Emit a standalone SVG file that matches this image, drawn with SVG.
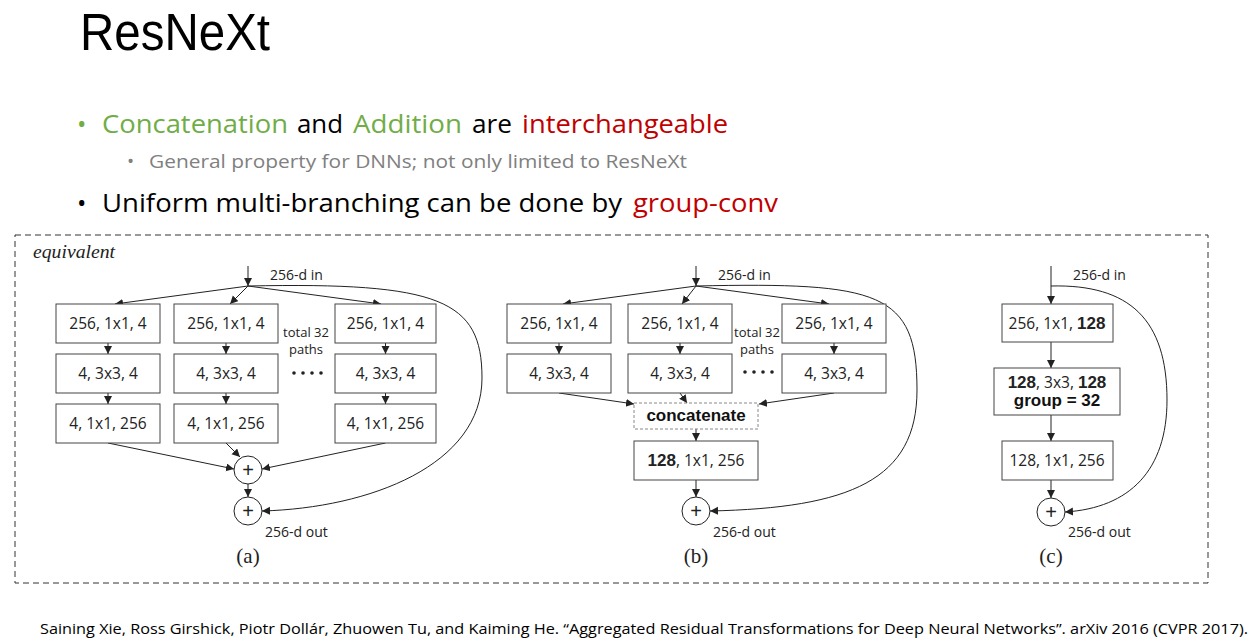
<svg xmlns="http://www.w3.org/2000/svg" width="1252" height="643" viewBox="0 0 1252 643">
<defs>
<marker id="ah" markerUnits="userSpaceOnUse" markerWidth="10" markerHeight="10" refX="8" refY="4" orient="auto">
<path d="M0,0 L8,4 L0,8 z" fill="#222"/>
</marker>
<style>
.hd{font-family:"Open Sans","Noto Sans",sans-serif;}
.lb{font-family:"Open Sans","Noto Sans",sans-serif;font-size:15.5px;fill:#222;text-anchor:middle;}
.sm{font-family:"Open Sans","Noto Sans",sans-serif;font-size:14px;fill:#222;}
.tp{font-family:"Open Sans","Noto Sans",sans-serif;font-size:13px;fill:#222;text-anchor:middle;}
.bd{font-family:"Liberation Sans",Arial,sans-serif;font-weight:bold;}
.cap{font-family:"Liberation Serif","Times New Roman",serif;font-size:21px;fill:#222;text-anchor:middle;}
.box{fill:#fff;stroke:#444;stroke-width:1;}
.cn{fill:none;stroke:#222;stroke-width:1;marker-end:url(#ah);}
.sum{fill:#fff;stroke:#222;stroke-width:1;}
.plus{font-family:"Liberation Sans",Arial,sans-serif;font-size:20px;fill:#222;text-anchor:middle;}
.g{fill:#70AD47;}
.r{fill:#C00000;}
.k{fill:#000;}
</style>
</defs>
<rect width="1252" height="643" fill="#fff"/>

<!-- header -->
<text class="k" x="80" y="50" font-family="Liberation Sans,Arial,sans-serif" font-size="51" textLength="190" lengthAdjust="spacingAndGlyphs">ResNeXt</text>
<g class="hd" font-size="25">
<text class="g" x="77" y="133">•</text>
<text class="g" x="102" y="133" textLength="186" lengthAdjust="spacingAndGlyphs">Concatenation</text>
<text class="k" x="297" y="133" textLength="46" lengthAdjust="spacingAndGlyphs">and</text>
<text class="g" x="353" y="133" textLength="109" lengthAdjust="spacingAndGlyphs">Addition</text>
<text class="k" x="472" y="133" textLength="40" lengthAdjust="spacingAndGlyphs">are</text>
<text class="r" x="522" y="133" textLength="206" lengthAdjust="spacingAndGlyphs">interchangeable</text>
</g>
<g class="hd" font-size="19" fill="#808080">
<text x="127" y="168">•</text>
<text x="149" y="168" textLength="538" lengthAdjust="spacingAndGlyphs">General property for DNNs; not only limited to ResNeXt</text>
</g>
<g class="hd" font-size="25">
<text class="k" x="77" y="212">•</text>
<text class="k" x="102" y="212" textLength="520" lengthAdjust="spacingAndGlyphs">Uniform multi-branching can be done by</text>
<text class="r" x="633" y="212" textLength="145" lengthAdjust="spacingAndGlyphs">group-conv</text>
</g>

<!-- frame -->
<rect x="15" y="235" width="1193" height="348" fill="none" stroke="#333" stroke-width="1" stroke-dasharray="6,4"/>
<text x="33" y="258" font-family="Liberation Serif,'Times New Roman',serif" font-style="italic" font-size="18" fill="#222" textLength="82" lengthAdjust="spacingAndGlyphs">equivalent</text>

<!-- connectors -->
<g id="connectors">
<!-- (a) -->
<line class="cn" x1="248" y1="266" x2="248" y2="286"/>
<line class="cn" x1="248" y1="286" x2="115" y2="304"/>
<line class="cn" x1="248" y1="286" x2="230" y2="304"/>
<line class="cn" x1="248" y1="286" x2="381" y2="304"/>
<line class="cn" x1="108" y1="343" x2="108" y2="354"/>
<line class="cn" x1="226" y1="343" x2="226" y2="354"/>
<line class="cn" x1="385.5" y1="343" x2="385.5" y2="354"/>
<line class="cn" x1="108" y1="393" x2="108" y2="404"/>
<line class="cn" x1="226" y1="393" x2="226" y2="404"/>
<line class="cn" x1="385.5" y1="393" x2="385.5" y2="404"/>
<line class="cn" x1="108" y1="443" x2="234" y2="469"/>
<line class="cn" x1="226" y1="443" x2="240" y2="457"/>
<line class="cn" x1="385.5" y1="443" x2="262" y2="469"/>
<line class="cn" x1="248" y1="484" x2="248" y2="497"/>
<path class="cn" d="M248,286 C440,282 482,300 482,378 C482,465 370,508 262,511"/>
<!-- (b) -->
<line class="cn" x1="696" y1="266" x2="696" y2="286"/>
<line class="cn" x1="696" y1="286" x2="563" y2="304"/>
<line class="cn" x1="696" y1="286" x2="682" y2="304"/>
<line class="cn" x1="696" y1="286" x2="829" y2="304"/>
<line class="cn" x1="559" y1="343" x2="559" y2="354"/>
<line class="cn" x1="680" y1="343" x2="680" y2="354"/>
<line class="cn" x1="834" y1="343" x2="834" y2="354"/>
<line class="cn" x1="559" y1="393" x2="634" y2="404"/>
<line class="cn" x1="680" y1="393" x2="687" y2="403"/>
<line class="cn" x1="834" y1="393" x2="759" y2="404"/>
<line class="cn" x1="696" y1="429" x2="696" y2="441"/>
<line class="cn" x1="696" y1="480" x2="696" y2="497"/>
<path class="cn" d="M696,286 C880,282 917,292 917,390 C917,480 850,508 710,511"/>
<!-- (c) -->
<line class="cn" x1="1051" y1="266" x2="1051" y2="304"/>
<line class="cn" x1="1051" y1="342" x2="1051" y2="368"/>
<line class="cn" x1="1051" y1="415" x2="1051" y2="441"/>
<line class="cn" x1="1051" y1="480" x2="1051" y2="498"/>
<path class="cn" d="M1051,286 C1130,284 1167,320 1167,400 C1167,470 1130,508 1065,512"/>
</g>

<!-- (a) nodes -->
<g id="a-in"><text class="sm" x="270" y="280">256-d in</text></g>
<g id="a-b11"><rect class="box" x="56" y="304" width="104" height="39"/><text class="lb" x="108" y="329">256, 1x1, 4</text></g>
<g id="a-b12"><rect class="box" x="174" y="304" width="104" height="39"/><text class="lb" x="226" y="329">256, 1x1, 4</text></g>
<g id="a-b13"><rect class="box" x="335" y="304" width="101" height="39"/><text class="lb" x="385.5" y="329">256, 1x1, 4</text></g>
<g id="a-b21"><rect class="box" x="56" y="354" width="104" height="39"/><text class="lb" x="108" y="379">4, 3x3, 4</text></g>
<g id="a-b22"><rect class="box" x="174" y="354" width="104" height="39"/><text class="lb" x="226" y="379">4, 3x3, 4</text></g>
<g id="a-b23"><rect class="box" x="335" y="354" width="101" height="39"/><text class="lb" x="385.5" y="379">4, 3x3, 4</text></g>
<g id="a-b31"><rect class="box" x="56" y="404" width="104" height="39"/><text class="lb" x="108" y="429">4, 1x1, 256</text></g>
<g id="a-b32"><rect class="box" x="174" y="404" width="104" height="39"/><text class="lb" x="226" y="429">4, 1x1, 256</text></g>
<g id="a-b33"><rect class="box" x="335" y="404" width="101" height="39"/><text class="lb" x="385.5" y="429">4, 1x1, 256</text></g>
<g id="a-note"><text class="tp" x="306" y="337">total 32</text><text class="tp" x="306" y="354">paths</text>
<circle cx="294" cy="373" r="1.8" fill="#222"/><circle cx="303" cy="373" r="1.8" fill="#222"/><circle cx="312" cy="373" r="1.8" fill="#222"/><circle cx="321" cy="373" r="1.8" fill="#222"/></g>
<g id="a-sum1"><circle class="sum" cx="248" cy="470" r="14"/><text class="plus" x="248" y="477">+</text></g>
<g id="a-sum2"><circle class="sum" cx="248" cy="511" r="14"/><text class="plus" x="248" y="518">+</text></g>
<g id="a-out"><text class="sm" x="265" y="537">256-d out</text></g>
<g id="a-cap"><text class="cap" x="248" y="563">(a)</text></g>

<!-- (b) nodes -->
<g id="b-in"><text class="sm" x="718" y="280">256-d in</text></g>
<g id="b-b11"><rect class="box" x="507" y="304" width="104" height="39"/><text class="lb" x="559" y="329">256, 1x1, 4</text></g>
<g id="b-b12"><rect class="box" x="628" y="304" width="104" height="39"/><text class="lb" x="680" y="329">256, 1x1, 4</text></g>
<g id="b-b13"><rect class="box" x="782" y="304" width="104" height="39"/><text class="lb" x="834" y="329">256, 1x1, 4</text></g>
<g id="b-b21"><rect class="box" x="507" y="354" width="104" height="39"/><text class="lb" x="559" y="379">4, 3x3, 4</text></g>
<g id="b-b22"><rect class="box" x="628" y="354" width="104" height="39"/><text class="lb" x="680" y="379">4, 3x3, 4</text></g>
<g id="b-b23"><rect class="box" x="782" y="354" width="104" height="39"/><text class="lb" x="834" y="379">4, 3x3, 4</text></g>
<g id="b-note"><text class="tp" x="757" y="337">total 32</text><text class="tp" x="757" y="354">paths</text>
<circle cx="745" cy="372" r="1.8" fill="#222"/><circle cx="754" cy="372" r="1.8" fill="#222"/><circle cx="763" cy="372" r="1.8" fill="#222"/><circle cx="772" cy="372" r="1.8" fill="#222"/></g>
<g id="b-concat"><rect x="634" y="403" width="124" height="26" fill="#fff" stroke="#888" stroke-width="1" stroke-dasharray="3,2"/><text class="bd" x="696" y="421" font-size="17" fill="#111" text-anchor="middle">concatenate</text></g>
<g id="b-b3"><rect class="box" x="634" y="441" width="124" height="39"/><text class="lb" x="696" y="466"><tspan class="bd" font-size="17">128</tspan>, 1x1, 256</text></g>
<g id="b-sum"><circle class="sum" cx="696" cy="511" r="14"/><text class="plus" x="696" y="518">+</text></g>
<g id="b-out"><text class="sm" x="713" y="537">256-d out</text></g>
<g id="b-cap"><text class="cap" x="696" y="563">(b)</text></g>

<!-- (c) nodes -->
<g id="c-in"><text class="sm" x="1073" y="280">256-d in</text></g>
<g id="c-b1"><rect class="box" x="1002" y="304" width="111" height="38"/><text class="lb" x="1057" y="329">256, 1x1, <tspan class="bd" font-size="17">128</tspan></text></g>
<g id="c-b2"><rect class="box" x="994" y="368" width="126" height="47"/><text class="lb" x="1057" y="388"><tspan class="bd" font-size="17">128</tspan>, 3x3, <tspan class="bd" font-size="17">128</tspan></text><text class="bd" x="1057" y="406" font-size="17" fill="#111" text-anchor="middle">group = 32</text></g>
<g id="c-b3"><rect class="box" x="1002" y="441" width="111" height="39"/><text class="lb" x="1057" y="466">128, 1x1, 256</text></g>
<g id="c-sum"><circle class="sum" cx="1051" cy="512" r="14"/><text class="plus" x="1051" y="519">+</text></g>
<g id="c-out"><text class="sm" x="1068" y="537">256-d out</text></g>
<g id="c-cap"><text class="cap" x="1051" y="563">(c)</text></g>

<!-- footer -->
<text class="hd k" x="40" y="634" font-size="14" textLength="1208" lengthAdjust="spacingAndGlyphs">Saining Xie, Ross Girshick, Piotr Dollár, Zhuowen Tu, and Kaiming He. “Aggregated Residual Transformations for Deep Neural Networks”. arXiv 2016 (CVPR 2017).</text>
</svg>
